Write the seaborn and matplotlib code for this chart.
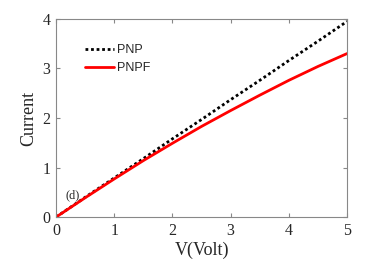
import numpy as np
import pandas as pd
import seaborn as sns
import matplotlib.pyplot as plt

# values
volt = [0, 0.5, 1, 1.5, 2, 2.5, 3, 3.5, 4, 4.5, 5]
pnp = [0, 0.40, 0.79, 1.18, 1.58, 1.97, 2.37, 2.76, 3.16, 3.55, 3.95]
pnpf = [0, 0.39, 0.77, 1.14, 1.49, 1.83, 2.15, 2.46, 2.76, 3.04, 3.30]
series = ["PNP", "PNPF"]


def main():
    sns.set_style("ticks")
    plt.rcParams["font.family"] = ["Liberation Serif", "DejaVu Serif"]

    df = pd.DataFrame({
        "V": volt * 2,
        "I": pnp + pnpf,
        "name": [series[0]] * len(volt) + [series[1]] * len(volt),
    })

    fig = plt.figure(figsize=(3.74, 2.66), dpi=100)
    ax = fig.add_axes([0.150, 0.184, 0.778, 0.745])

    sns.lineplot(data=df, x="V", y="I", hue="name", style="name",
                 palette={"PNP": "black", "PNPF": "red"},
                 dashes={"PNP": (1, 1), "PNPF": ""},
                 linewidth=2, ax=ax)

    ax.set_xlim(0, 5)
    ax.set_ylim(0, 4)
    ax.set_xticks([0, 1, 2, 3, 4, 5])
    ax.set_yticks([0, 1, 2, 3, 4])
    ax.tick_params(direction="in", top=True, right=True, length=3,
                   labelsize=11.5, color="#888888", pad=4)
    for s in ax.spines.values():
        s.set_color("#888888")
        s.set_linewidth(0.8)

    ax.set_xlabel("V(Volt)", fontsize=13, labelpad=2)
    ax.set_ylabel("Current", fontsize=13, labelpad=4)
    ax.text(0.16, 0.38, "(d)", fontsize=9)

    leg = ax.legend(loc="upper left", bbox_to_anchor=(0.06, 0.93), frameon=False,
                    handlelength=2.3, handletextpad=0.3, labelspacing=0.5,
                    prop={"family": "Liberation Sans", "size": 9})
    for line in leg.get_lines():
        line.set_linewidth(2)

    fig.savefig("out.png", dpi=100)


if __name__ == "__main__":
    main()
